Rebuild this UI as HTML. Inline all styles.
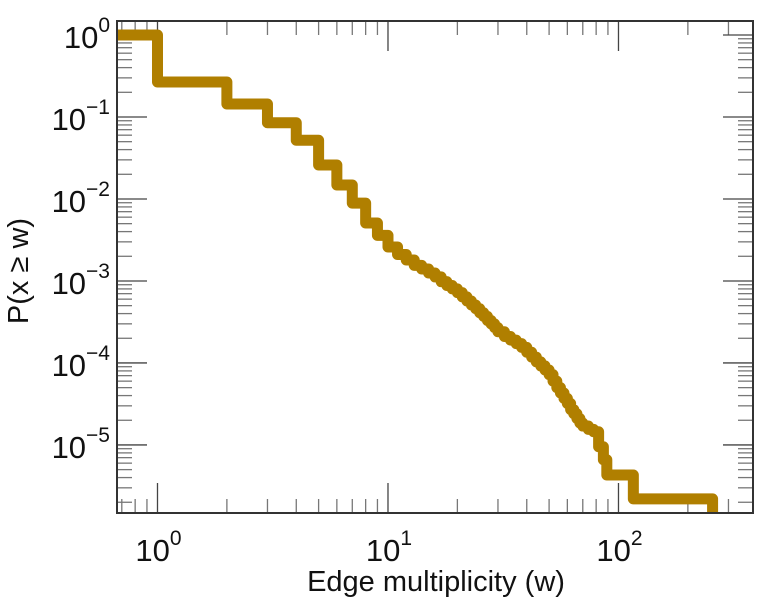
<!DOCTYPE html>
<html><head><meta charset="utf-8"><style>
html,body{margin:0;padding:0;background:#fff;}
svg{display:block;font-family:"Liberation Sans",sans-serif;}
</style></head><body>
<svg id="chart" width="759" height="600" viewBox="0 0 759 600" xmlns="http://www.w3.org/2000/svg">
<defs><clipPath id="clip"><rect x="117" y="21" width="636" height="493"/></clipPath></defs>
<g id="ticks"></g>
<g id="labels"></g>
<path id="series" fill="none" stroke="#b07f00" stroke-width="11" stroke-linejoin="round" clip-path="url(#clip)"/>
<rect x="117" y="21" width="636" height="492" fill="none" stroke="#333" stroke-width="2"/>
<text x="436" y="591" font-size="29" text-anchor="middle" fill="#111">Edge multiplicity (w)</text>
<text transform="translate(28,271) rotate(-90)" font-size="29" text-anchor="middle" fill="#111">P(x ≥ w)</text>
</svg>
<script>
const breakW = [1,2,3,4,5,6,7,8,9,10,11,12,13,14,15,16,17,18,19,20,21,22,23,24,25,26,27,28,29,30,32,34,36,38,40,42,44,46,48,50,52,54,56,58,60,62,64,66,68,70,74,78,82,86,89,116,256];
const levelP = [0.267,0.144,0.085,0.052,0.026,0.0148,0.0089,0.0051,0.0036,0.0026,0.0021,0.0018,0.00155,0.0014,0.00125,0.00112,0.00098,0.00088,0.00080,0.00072,0.00064,0.00057,0.00051,0.00046,0.00041,0.00037,0.00033,0.00030,0.00027,0.00024,0.00021,0.00019,0.000172,0.000155,0.000135,0.000118,0.000103,0.000092,0.000082,0.000072,0.000060,0.000050,0.000043,0.000037,0.000032,0.000027,0.000024,0.000021,0.0000185,0.000017,0.0000155,0.0000145,0.0000095,0.0000066,0.0000043,0.0000022,1e-7];
const xTickExps = [0,1,2];
const yTickExps = [0,-1,-2,-3,-4,-5];

const L=117,R=753,T=21,B=513;
const xLogMin=-0.1757, xLogMax=2.5836;
const yLogMax=0.1707, yLogMin=-5.83;
function xs(v){return L+(Math.log10(v)-xLogMin)/(xLogMax-xLogMin)*(R-L);}
function ys(v){return T+(yLogMax-Math.log10(v))/(yLogMax-yLogMin)*(B-T);}
const NS="http://www.w3.org/2000/svg";

let d="M"+(L-10)+","+ys(1)+" L"+xs(breakW[0])+","+ys(1);
for(let i=0;i<breakW.length;i++){
  const y=Math.min(ys(levelP[i]),B+10);
  d+=" L"+xs(breakW[i])+","+y;
  if(i+1<breakW.length) d+=" L"+xs(breakW[i+1])+","+y;
}
document.getElementById('series').setAttribute('d',d);

const tg=document.getElementById('ticks');
function line(x1,y1,x2,y2,name,major){
  const l=document.createElementNS(NS,'line');
  l.setAttribute('x1',x1);l.setAttribute('y1',y1);l.setAttribute('x2',x2);l.setAttribute('y2',y2);
  l.setAttribute('stroke',major?'#444':'#777');l.setAttribute('stroke-width','1.3');
  
  
  tg.appendChild(l);
}
for(let e=-1;e<=2;e++){
  for(let m=1;m<=9;m++){
    const v=m*Math.pow(10,e);
    const x=xs(v);
    if(x<L||x>R) continue;
    const len=(m===1)?30:14;
    line(x,B,x,B-len,'x-tick',m===1);
    line(x,T,x,T+len,'x-tick-top',m===1);
  }
}
for(let e=-6;e<=0;e++){
  for(let m=1;m<=9;m++){
    const v=m*Math.pow(10,e);
    const y=ys(v);
    if(y<T||y>B) continue;
    const len=(m===1)?30:15;
    line(L,y,L+len,y,'y-tick',m===1);
    line(R,y,R-len,y,'y-tick-right',m===1);
  }
}
const lg=document.getElementById('labels');
function label(x,y,exp,anchor,name){
  const t=document.createElementNS(NS,'text');
  t.setAttribute('x',x);t.setAttribute('y',y);
  t.setAttribute('font-size','31');t.setAttribute('fill','#111');
  t.setAttribute('text-anchor',anchor);
  
  
  const sup=exp<0?'\u2212'+(-exp):''+exp;
  t.innerHTML='10<tspan font-size="21" dy="-16">'+sup+'</tspan>';
  lg.appendChild(t);
}
xTickExps.forEach(e=>label(xs(Math.pow(10,e))+1,561,e,'middle','x-tick-label'));
yTickExps.forEach(e=>label(110,ys(Math.pow(10,e))+13,e,'end','y-tick-label'));
</script>
</body></html>
